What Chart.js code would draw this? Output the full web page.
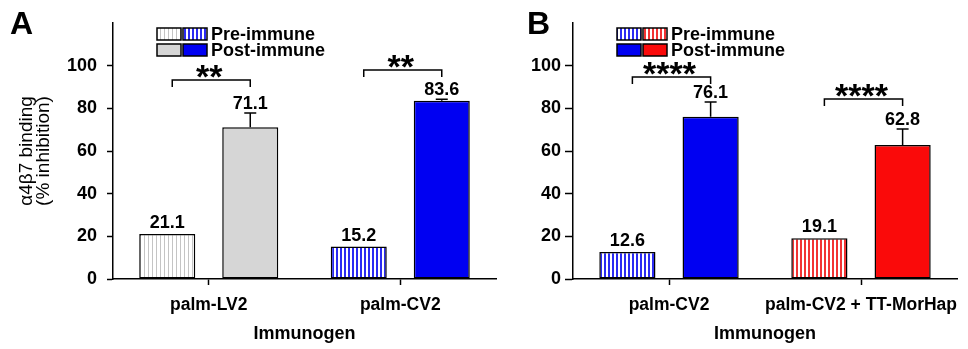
<!DOCTYPE html>
<html>
<head>
<meta charset="utf-8">
<script src="https://cdn.jsdelivr.net/npm/chart.js@4.4.1/dist/chart.umd.min.js"></script>
<style>
  body { margin: 0; background: #fff; }
  .panel { position: absolute; top: 0; height: 349px; }
</style>
</head>
<body>
<div class="panel" style="left:0;width:500px"><canvas id="chartA"></canvas></div>
<div class="panel" style="left:500px;width:468px"><canvas id="chartB"></canvas></div>
<script>
// Panel A data
const categoriesA = ['palm-LV2', 'palm-CV2'];
const preA = [21.1, 15.2];
const postA = [71.1, 83.6];
const postErrA = [6.7, 0.6];
const starsA = ['**', '**'];
const bracketA = [93.3, 98];

// Panel B data
const categoriesB = ['palm-CV2', 'palm-CV2 + TT-MorHap'];
const preB = [12.6, 19.1];
const postB = [76.1, 62.8];
const postErrB = [6.9, 7.5];
const starsB = ['****', '****'];
const bracketB = [94.7, 84.4];

const yTicks = [0, 20, 40, 60, 80, 100];
const seriesNames = ['Pre-immune', 'Post-immune'];

const FONT = "'Liberation Sans', Arial, Helvetica, sans-serif";

// vertical stripe fill for the pre-immune bars
function stripes(canvasId, color, width) {
    const c = document.createElement('canvas');
    c.width = 4;
    c.height = 4;
    const g = c.getContext('2d');
    g.fillStyle = '#fff';
    g.fillRect(0, 0, 4, 4);
    g.fillStyle = color;
    g.fillRect(0, 0, width, 4);
    return document.getElementById(canvasId).getContext('2d').createPattern(c, 'repeat');
}

// error bars, value labels, significance brackets, legend and panel letter
const annotate = {
    id: 'annotate',
    afterDatasetsDraw(chart, args, opts) {
        const ctx = chart.ctx;
        const y = chart.scales.y;
        const pre = chart.getDatasetMeta(0).data;
        const post = chart.getDatasetMeta(1).data;
        ctx.save();
        ctx.strokeStyle = '#000';
        ctx.lineWidth = 1.5;
        ctx.fillStyle = '#000';

        // error bars (upper only)
        post.forEach((bar, i) => {
            const top = y.getPixelForValue(opts.post[i] + opts.err[i]);
            ctx.beginPath();
            ctx.moveTo(bar.x, bar.y);
            ctx.lineTo(bar.x, top);
            ctx.moveTo(bar.x - 6, top);
            ctx.lineTo(bar.x + 6, top);
            ctx.stroke();
        });

        // value labels
        ctx.font = 'bold 18px ' + FONT;
        ctx.textAlign = 'center';
        ctx.textBaseline = 'alphabetic';
        pre.forEach((bar, i) => {
            ctx.fillText(opts.pre[i].toFixed(1), bar.x, bar.y - 6);
        });
        post.forEach((bar, i) => {
            const top = y.getPixelForValue(opts.post[i] + opts.err[i]);
            ctx.fillText(opts.post[i].toFixed(1), bar.x, top - 4);
        });

        // significance brackets
        opts.brackets.forEach((v, i) => {
            const by = y.getPixelForValue(v);
            const x1 = pre[i].x + 5;
            const x2 = post[i].x;
            ctx.beginPath();
            ctx.moveTo(x1, by + 7);
            ctx.lineTo(x1, by);
            ctx.lineTo(x2, by);
            ctx.lineTo(x2, by + 7);
            ctx.stroke();
            ctx.font = 'bold 34px ' + FONT;
            ctx.fillText(opts.stars[i], (x1 + x2) / 2 - 2, by + 8);
        });

        // legend: one box per immunogen, then the series name
        const lx = chart.chartArea.left + 44;
        const ds = chart.data.datasets;
        ds.forEach((d, r) => {
            const ry = 28 + r * 16;
            d.backgroundColor.forEach((fill, k) => {
                const bx = lx + k * 26;
                ctx.fillStyle = fill;
                ctx.fillRect(bx, ry, 24, 12);
                ctx.strokeRect(bx, ry, 24, 12);
            });
            ctx.fillStyle = '#000';
            ctx.font = 'bold 18px ' + FONT;
            ctx.textAlign = 'left';
            ctx.textBaseline = 'middle';
            ctx.fillText(d.label, lx + 54, ry + 7);
        });

        // panel letter
        ctx.font = 'bold 32px ' + FONT;
        ctx.textAlign = 'left';
        ctx.textBaseline = 'alphabetic';
        ctx.fillText(opts.letter, opts.letterX, 34);
        ctx.restore();
    }
};

function renderPanel(canvasId, cfg) {
    const font = {family: FONT, size: 18, weight: 'bold'};
    new Chart(document.getElementById(canvasId), {
        type: 'bar',
        data: {
            labels: cfg.categories,
            datasets: [{
                label: seriesNames[0],
                data: cfg.pre,
                backgroundColor: cfg.preFill,
                borderColor: '#000',
                borderWidth: 1.5,
                borderSkipped: false
            }, {
                label: seriesNames[1],
                data: cfg.post,
                backgroundColor: cfg.postFill,
                borderColor: '#000',
                borderWidth: 1.5,
                borderSkipped: false
            }]
        },
        options: {
            responsive: true,
            maintainAspectRatio: false,
            animation: false,
            categoryPercentage: 0.867,
            barPercentage: 0.675,
            layout: {padding: {top: 23, right: cfg.rightPad, bottom: 1, left: 0}},
            scales: {
                x: {
                    afterFit: scale => {
                        scale.height = 69;
                        scale.paddingLeft = 0;
                        scale.paddingRight = 0;
                    },
                    grid: {offset: false, drawOnChartArea: false, color: '#000', tickLength: 6, tickWidth: 1.5},
                    border: {color: '#000', width: 1.5},
                    ticks: {color: '#000', font: {family: FONT, size: 17.5, weight: 'bold'}, padding: 10,
                            maxRotation: 0, minRotation: 0, autoSkip: false},
                    title: {display: true, text: 'Immunogen', color: '#000', font: font, padding: {top: 7, bottom: 3}}
                },
                y: {
                    min: 0,
                    max: 120,
                    afterBuildTicks: axis => { axis.ticks = yTicks.map(v => ({value: v})); },
                    afterFit: scale => {
                        scale.width = cfg.axisWidth;
                        scale.paddingTop = 0;
                        scale.paddingBottom = 0;
                    },
                    grid: {drawOnChartArea: false, color: '#000', tickLength: cfg.tickLen, tickWidth: 1.5},
                    border: {color: '#000', width: 1.5},
                    ticks: {color: '#000', font: font, padding: cfg.tickPad},
                    title: {
                        display: cfg.yTitle.length > 0,
                        text: cfg.yTitle,
                        color: '#000',
                        font: {family: FONT, size: 19, lineHeight: 0.92},
                        padding: {top: 17.8, bottom: 0}
                    }
                }
            },
            plugins: {
                legend: {display: false},
                tooltip: {enabled: false},
                annotate: {
                    pre: cfg.pre, post: cfg.post, err: cfg.err,
                    brackets: cfg.brackets, stars: cfg.stars,
                    letter: cfg.letter, letterX: cfg.letterX
                }
            }
        },
        plugins: [annotate]
    });
}

renderPanel('chartA', {
    categories: categoriesA, pre: preA, post: postA, err: postErrA,
    brackets: bracketA, stars: starsA,
    preFill: [stripes('chartA', '#c4c4c4', 1), stripes('chartA', '#2b2bf2', 2)],
    postFill: ['#d6d6d6', '#0000f2'],
    yTitle: ['\u03b14\u03b27 binding', '(% inhibition)'],
    axisWidth: 113, rightPad: 4, tickLen: 6, tickPad: 10,
    letter: 'A', letterX: 10
});

renderPanel('chartB', {
    categories: categoriesB, pre: preB, post: postB, err: postErrB,
    brackets: bracketB, stars: starsB,
    preFill: [stripes('chartB', '#2b2bf2', 2), stripes('chartB', '#f23434', 2)],
    postFill: ['#0000f2', '#fa0a0a'],
    yTitle: [],
    axisWidth: 73, rightPad: 11, tickLen: 8, tickPad: 4,
    letter: 'B', letterX: 27
});
</script>
</body>
</html>
